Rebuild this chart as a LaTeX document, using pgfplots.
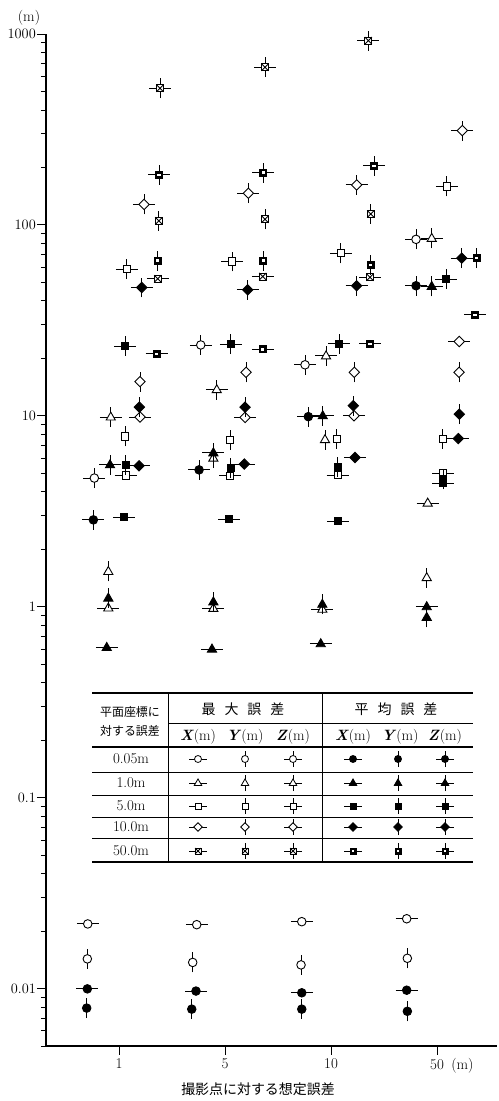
\documentclass[border=0pt]{standalone}
\usepackage{pgfplots}
\pgfplotsset{compat=1.18}
\usepackage{fontspec}
\newfontfamily\jp{Noto Sans CJK JP}

\newcommand\barH{\pgfpathmoveto{\pgfqpoint{-11pt}{0pt}}\pgfpathlineto{\pgfqpoint{11pt}{0pt}}\pgfusepathqstroke}
\newcommand\barV{\pgfpathmoveto{\pgfqpoint{0pt}{-10pt}}\pgfpathlineto{\pgfqpoint{0pt}{10pt}}\pgfusepathqstroke}
\newcommand\barX{\barH\barV}
\newcommand\shC{\pgfpathcircle{\pgfpointorigin}{4.3pt}\pgfusepathqfillstroke}
\newcommand\shT{\pgfpathmoveto{\pgfqpoint{0pt}{5pt}}\pgfpathlineto{\pgfqpoint{-4.6pt}{-3pt}}\pgfpathlineto{\pgfqpoint{4.6pt}{-3pt}}\pgfpathclose\pgfusepathqfillstroke}
\newcommand\shS{\pgfpathrectangle{\pgfqpoint{-3.6pt}{-3.6pt}}{\pgfqpoint{7.2pt}{7.2pt}}\pgfusepathqfillstroke}
\newcommand\shD{\pgfpathmoveto{\pgfqpoint{0pt}{5.2pt}}\pgfpathlineto{\pgfqpoint{5.2pt}{0pt}}\pgfpathlineto{\pgfqpoint{0pt}{-5.2pt}}\pgfpathlineto{\pgfqpoint{-5.2pt}{0pt}}\pgfpathclose\pgfusepathqfillstroke}
\newcommand\shXo{\pgfpathrectangle{\pgfqpoint{-3.6pt}{-3.6pt}}{\pgfqpoint{7.2pt}{7.2pt}}\pgfusepathqfillstroke
  \pgfpathmoveto{\pgfqpoint{-3.6pt}{-3.6pt}}\pgfpathlineto{\pgfqpoint{3.6pt}{3.6pt}}%
  \pgfpathmoveto{\pgfqpoint{-3.6pt}{3.6pt}}\pgfpathlineto{\pgfqpoint{3.6pt}{-3.6pt}}\pgfusepathqstroke}
\newcommand\shXf{\pgfpathrectangle{\pgfqpoint{-3.6pt}{-3.6pt}}{\pgfqpoint{7.2pt}{7.2pt}}\pgfusepathqfillstroke
  \pgfscope\pgfsetfillcolor{white}\pgfpathrectangle{\pgfqpoint{-1.7pt}{-1.2pt}}{\pgfqpoint{3.4pt}{2.4pt}}\pgfusepathqfill\endpgfscope}

\pgfdeclareplotmark{cH}{\barH\shC}\pgfdeclareplotmark{cV}{\barV\shC}\pgfdeclareplotmark{cX}{\barX\shC}
\pgfdeclareplotmark{tH}{\barH\shT}\pgfdeclareplotmark{tV}{\barV\shT}\pgfdeclareplotmark{tX}{\barX\shT}
\pgfdeclareplotmark{sH}{\barH\shS}\pgfdeclareplotmark{sV}{\barV\shS}\pgfdeclareplotmark{sX}{\barX\shS}
\pgfdeclareplotmark{dH}{\barH\shD}\pgfdeclareplotmark{dV}{\barV\shD}\pgfdeclareplotmark{dX}{\barX\shD}
\pgfdeclareplotmark{xoH}{\barH\shXo}\pgfdeclareplotmark{xoV}{\barV\shXo}\pgfdeclareplotmark{xoX}{\barX\shXo}
\pgfdeclareplotmark{xfH}{\barH\shXf}\pgfdeclareplotmark{xfV}{\barV\shXf}\pgfdeclareplotmark{xfX}{\barX\shXf}

\pgfplotsset{
  mo/.style={only marks, mark=#1, line width=0.9pt, mark options={draw=black, fill=white}},
  mf/.style={only marks, mark=#1, line width=0.9pt, mark options={draw=black, fill=black}},
  tmo/.style={only marks, mark=#1, line width=0.8pt, mark options={draw=black, fill=white, scale=0.82}},
  tmf/.style={only marks, mark=#1, line width=0.8pt, mark options={draw=black, fill=black, scale=0.82}},
}
\newcommand\legrow[3]{%
  \addplot[tmo=#1H] coordinates {(198,#3)};
  \addplot[tmo=#1V] coordinates {(245,#3)};
  \addplot[tmo=#1X] coordinates {(293,#3)};
  \addplot[tmf=#2H] coordinates {(353,#3)};
  \addplot[tmf=#2V] coordinates {(398,#3)};
  \addplot[tmf=#2X] coordinates {(445,#3)};
}
\newcommand\colhead[1]{\textbf{\textit{#1}}(m)}

\begin{document}
\begin{tikzpicture}[x=1bp,y=1bp]
\useasboundingbox (0,0) rectangle (499,1101);
\begin{axis}[
  scale only axis, width=451bp, height=1012bp,
  at={(46bp,55bp)}, anchor=south west,
  ymode=log, ymin=0.005, ymax=1000,
  xmin=-0.689, xmax=3.566,
  axis lines=left, axis line style={-, line width=1.3pt},
  xtick={0,1,2,3}, xticklabels={1,5,10,{50\rlap{\enspace(m)}}},
  log ticks with fixed point,
  /pgf/number format/1000 sep={},
  tick align=outside, major tick length=9bp, minor tick length=5bp,
  tick style={line width=0.8pt, black},
  tick label style={font=\fontsize{15}{18}\selectfont},
  yticklabel style={inner xsep=1pt},
  clip=false,
]
% 0.05 m (circles)
\addplot[mo=cH] coordinates {(-0.295,0.0218) (0.733,0.0216) (1.724,0.0224) (2.714,0.0232)};
\addplot[mo=cV] coordinates {(-0.299,0.0143) (0.695,0.0137) (1.717,0.0133) (2.720,0.0144)};
\addplot[mo=cX] coordinates {(-0.233,4.72) (0.771,23.5) (1.755,18.5) (2.802,84)};
\addplot[mf=cH] coordinates {(-0.299,0.00996) (0.726,0.0097) (1.724,0.0095) (2.714,0.0098)};
\addplot[mf=cV] coordinates {(-0.305,0.0079) (0.686,0.0078) (1.724,0.0078) (2.720,0.0076)};
\addplot[mf=cX] coordinates {(-0.242,2.85) (0.755,5.21) (1.786,9.9) (2.802,48)};
% 1.0 m (triangles)
\addplot[mo=tH] coordinates {(-0.101,0.985) (0.890,0.98) (1.918,0.97) (2.912,3.49)};
\addplot[mo=tV] coordinates {(-0.101,1.53) (0.890,6.0) (1.943,7.5) (2.903,1.42)};
\addplot[mo=tX] coordinates {(-0.078,9.85) (0.922,13.7) (1.953,20.6) (2.950,85)};
\addplot[mf=tH] coordinates {(-0.116,0.612) (0.877,0.60) (1.903,0.64) (2.903,1.0)};
\addplot[mf=tV] coordinates {(-0.101,1.11) (0.890,1.06) (1.918,1.03) (2.903,0.88)};
\addplot[mf=tX] coordinates {(-0.085,5.54) (0.890,6.4) (1.922,10.0) (2.950,47.6)};
% 5.0 m (squares)
\addplot[mo=sH] coordinates {(0.063,4.87) (1.047,4.85) (2.063,4.9) (3.059,5.0)};
\addplot[mo=sV] coordinates {(0.057,7.8) (1.047,7.48) (2.054,7.6) (3.054,7.6)};
\addplot[mo=sX] coordinates {(0.073,58.6) (1.069,64.3) (2.092,71) (3.092,159)};
\addplot[mf=sH] coordinates {(0.050,2.94) (1.038,2.88) (2.069,2.8) (3.059,4.44)};
\addplot[mf=sV] coordinates {(0.063,5.54) (1.054,5.32) (2.063,5.4) (3.059,4.65)};
\addplot[mf=sX] coordinates {(0.057,23.2) (1.054,23.7) (2.078,23.8) (3.085,52)};
% 10.0 m (diamonds)
\addplot[mo=dH] coordinates {(0.198,9.85) (1.189,9.8) (2.217,10.0) (3.210,24.5)};
\addplot[mo=dV] coordinates {(0.198,15.1) (1.198,16.9) (2.220,16.9) (3.208,16.9)};
\addplot[mo=dX] coordinates {(0.236,128) (1.220,146.5) (2.242,162) (3.239,312)};
\addplot[mf=dH] coordinates {(0.189,5.47) (1.182,5.59) (2.226,6.05) (3.201,7.6)};
\addplot[mf=dV] coordinates {(0.192,11.1) (1.189,11.1) (2.210,11.3) (3.210,10.2)};
\addplot[mf=dX] coordinates {(0.214,47) (1.214,45.7) (2.242,48) (3.233,67)};
% 50.0 m (crossed squares)
\addplot[mo=xoH] coordinates {(0.365,52.2) (1.356,53.6) (2.368,53.2)};
\addplot[mo=xoV] coordinates {(0.375,105) (1.377,107) (2.375,114)};
\addplot[mo=xoX] coordinates {(0.387,520) (1.377,670) (2.352,923)};
\addplot[mf=xfH] coordinates {(0.355,21.1) (1.356,22.3) (2.368,23.8) (3.358,33.8)};
\addplot[mf=xfV] coordinates {(0.365,65) (1.361,65) (2.375,61.8) (3.375,67)};
\addplot[mf=xfX] coordinates {(0.377,183) (1.361,188) (2.406,204)};
\end{axis}

\begin{axis}[
  at={(0bp,0bp)}, anchor=south west, scale only axis,
  width=499bp, height=1101bp, xmin=0, xmax=499, ymin=0, ymax=1101,
  y dir=reverse, hide axis, clip=false,
]
\node[font=\fontsize{15}{18}\selectfont] at (29,18) {(m)};
\node[font=\jp\fontsize{14}{16}\selectfont] at (258,1089) {撮影点に対する想定誤差};
% table
\draw[line width=1.5pt] (92,693) -- (473,693);
\draw[line width=1.5pt] (92,862) -- (473,862);
\draw[line width=0.9pt] (168,723) -- (473,723);
\draw[line width=1.3pt] (92,747) -- (473,747);
\draw[line width=0.6pt] (92,772) -- (473,772);
\draw[line width=0.6pt] (92,795) -- (473,795);
\draw[line width=0.6pt] (92,817) -- (473,817);
\draw[line width=0.6pt] (92,838) -- (473,838);
\draw[line width=0.9pt] (168,693) -- (168,862);
\draw[line width=0.9pt] (322,693) -- (322,862);
\node[font=\jp\fontsize{12}{14}\selectfont] at (130,712) {平面座標に};
\node[font=\jp\fontsize{12}{14}\selectfont] at (130,731) {対する誤差};
\node[font=\jp\fontsize{14}{16}\selectfont] at (243,709) {最\hspace{9bp}大\hspace{9bp}誤\hspace{9bp}差};
\node[font=\jp\fontsize{14}{16}\selectfont] at (396,709) {平\hspace{9bp}均\hspace{9bp}誤\hspace{9bp}差};
\node[font=\fontsize{15}{18}\selectfont] at (198,737) {\colhead{X}};
\node[font=\fontsize{15}{18}\selectfont] at (245,737) {\colhead{Y}};
\node[font=\fontsize{15}{18}\selectfont] at (293,737) {\colhead{Z}};
\node[font=\fontsize{15}{18}\selectfont] at (353,737) {\colhead{X}};
\node[font=\fontsize{15}{18}\selectfont] at (400,737) {\colhead{Y}};
\node[font=\fontsize{15}{18}\selectfont] at (445,737) {\colhead{Z}};
\node[font=\fontsize{15}{18}\selectfont] at (131,759) {0.05m};
\node[font=\fontsize{15}{18}\selectfont] at (131,783) {1.0m};
\node[font=\fontsize{15}{18}\selectfont] at (131,806) {5.0m};
\node[font=\fontsize{15}{18}\selectfont] at (131,827) {10.0m};
\node[font=\fontsize{15}{18}\selectfont] at (131,851) {50.0m};
\legrow{c}{c}{759}
\legrow{t}{t}{783}
\legrow{s}{s}{806}
\legrow{d}{d}{827}
\legrow{xo}{xf}{851}
\end{axis}
\end{tikzpicture}
\end{document}
